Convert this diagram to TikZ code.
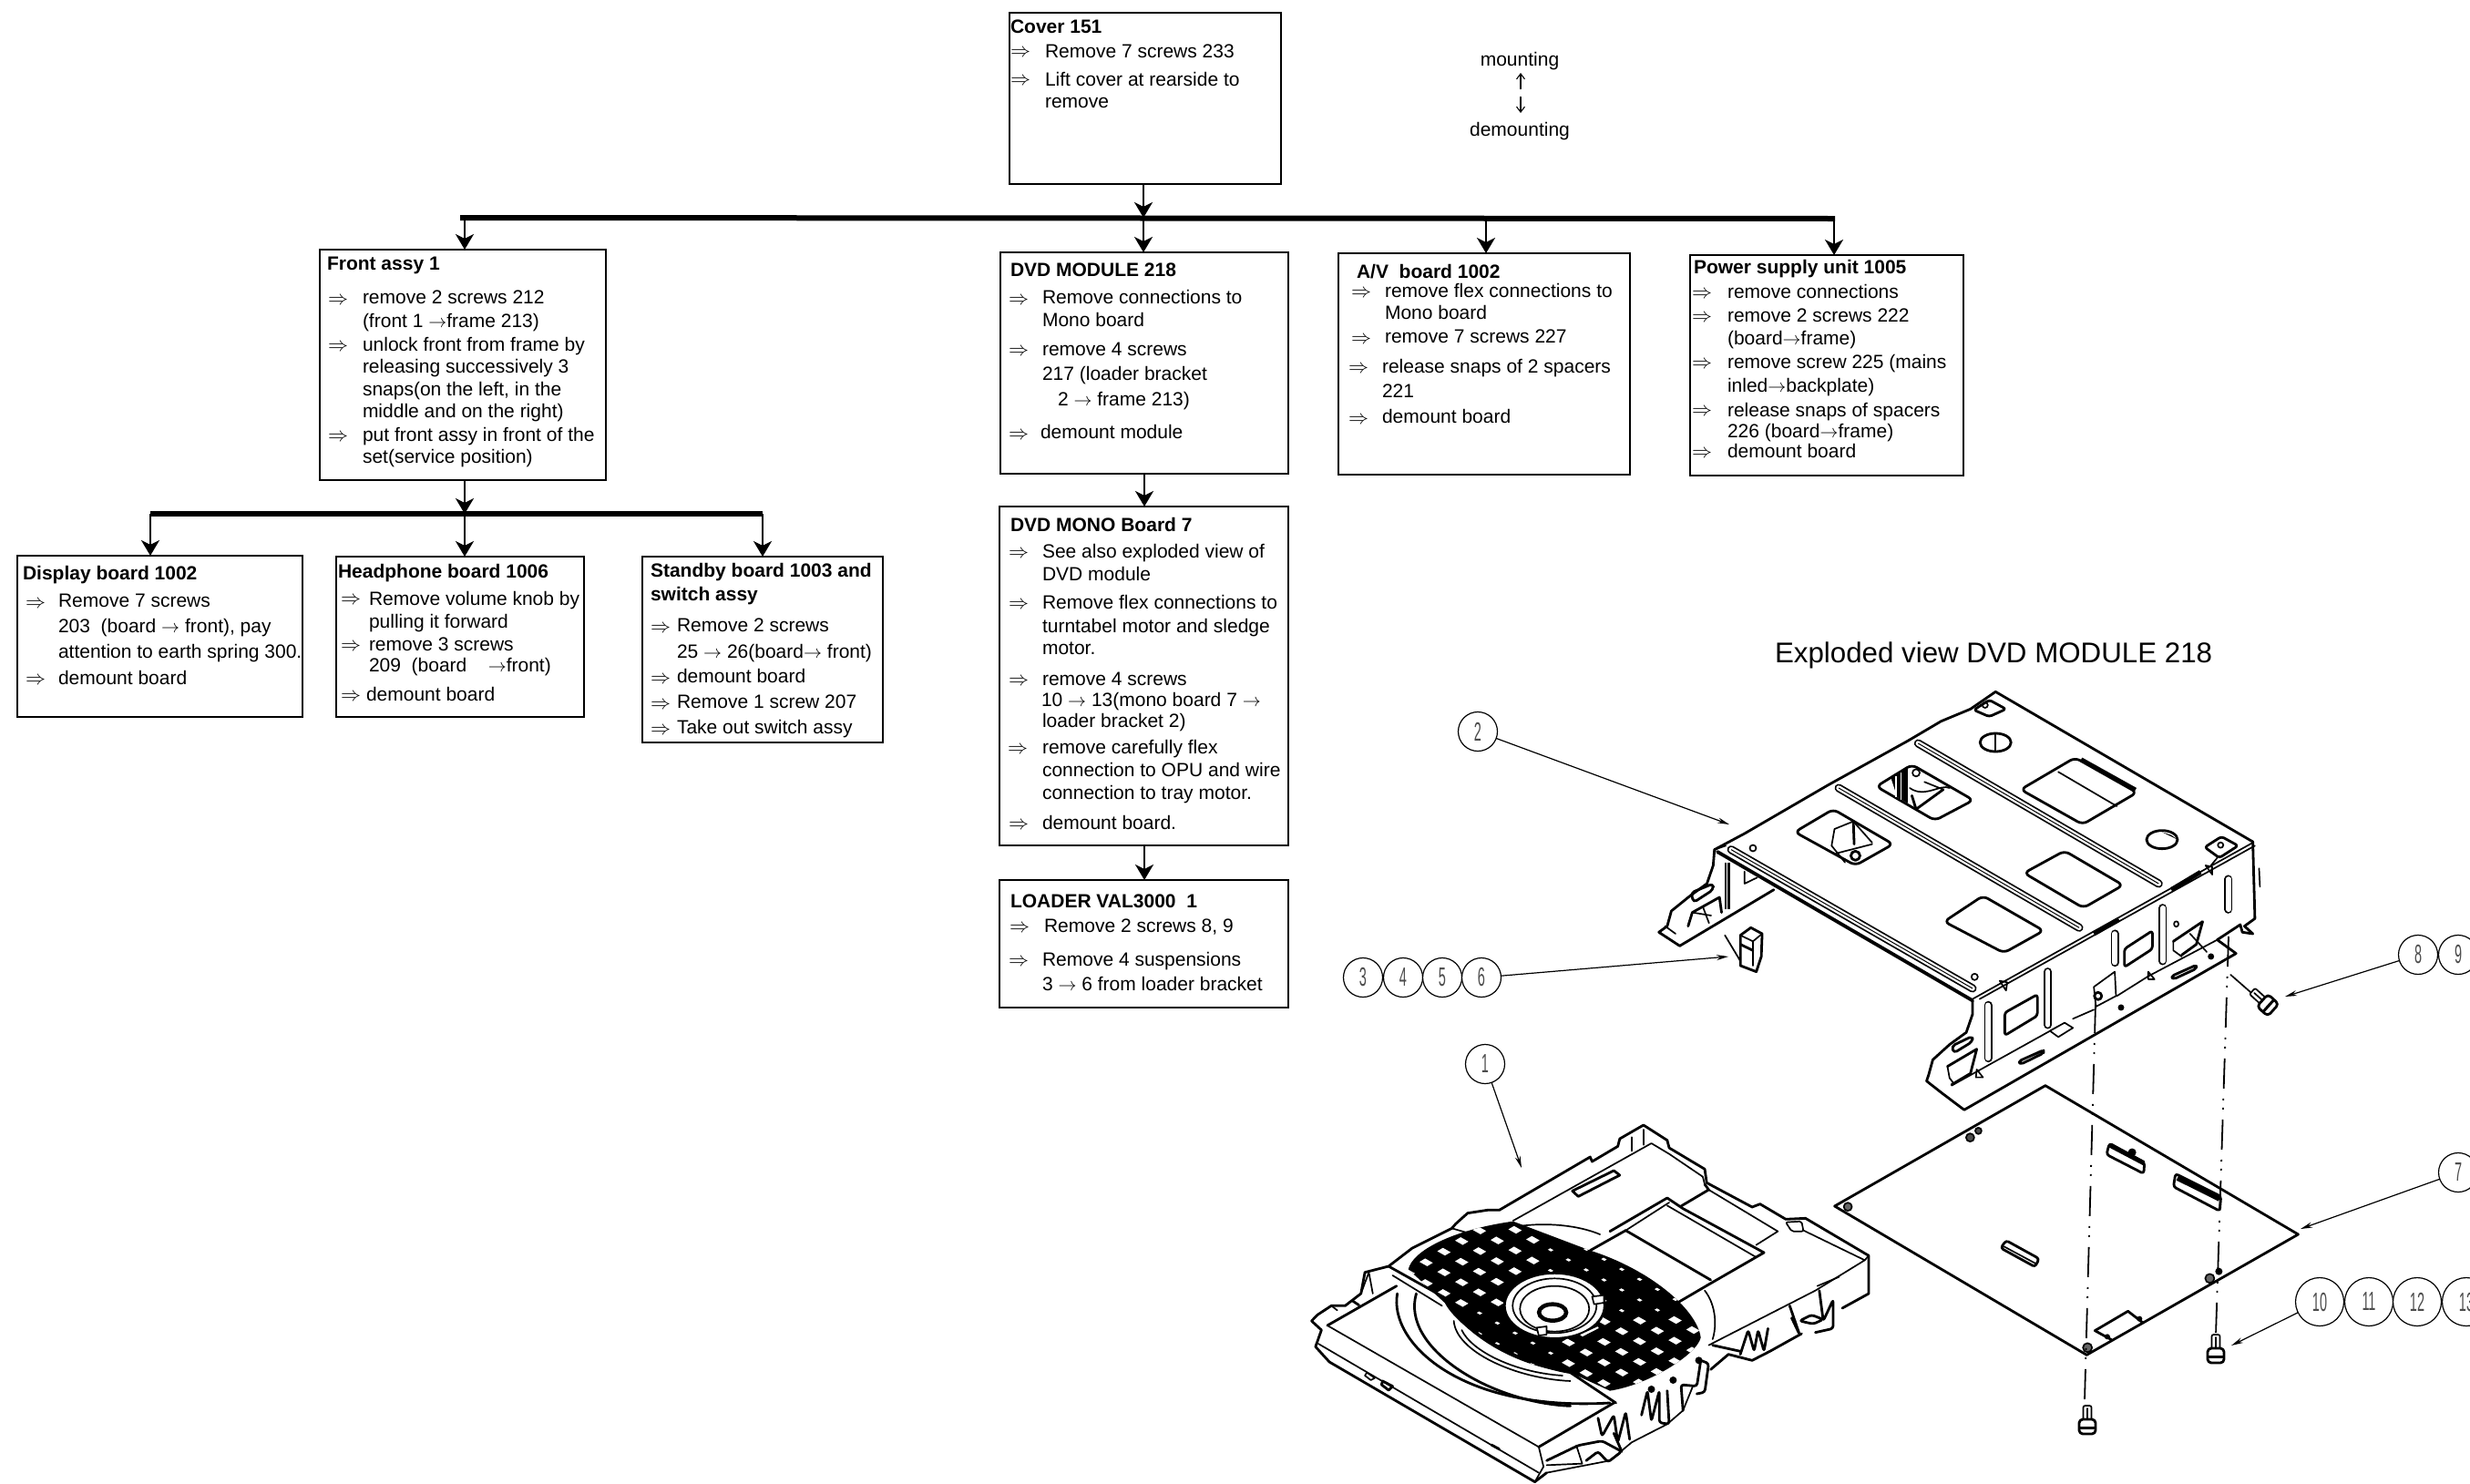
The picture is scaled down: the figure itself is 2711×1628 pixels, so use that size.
\documentclass[tikz,border=0pt]{standalone}
\usepackage{fix-cm}
\usepackage{fontspec}
\setmainfont{Liberation Sans}
\usetikzlibrary{arrows.meta,shapes.geometric}
\newcount\tcnt
\tikzset{
 box/.style={draw=black,line width=2.8pt,inner sep=0pt,outer sep=0pt,anchor=north west},
 txt/.style={font=\fontsize{21}{25}\selectfont,anchor=base west,inner sep=0pt,outer sep=0pt},
 ttl/.style={font=\fontsize{21}{25}\selectfont\bfseries,anchor=base west,inner sep=0pt,outer sep=0pt},
 busbar/.style={line width=6pt},
 flow/.style={line width=2.4pt,-{Stealth[length=17pt,width=20pt,inset=5pt]}},
 small/.style={line width=1.1pt,-{Straight Barb[length=6pt,width=9pt]}},
 leader/.style={line width=1.2pt,-{Stealth[length=13pt,width=6pt]}},
 callout/.style={draw=black,circle,line width=1.2pt,minimum size=43pt,inner sep=0pt,outer sep=0pt,fill=white,text=black!70,font=\fontsize{29}{29}\selectfont},
 calloutb/.style={callout,minimum size=53pt},
 axisl/.style={line width=1.8pt,dash pattern=on 33pt off 11pt on 2pt off 8pt on 2pt off 11pt},
 dk/.style={line width=2.8pt,line join=round,line cap=round},
 th/.style={line width=1.7pt,line join=round,line cap=round},
}
\newcommand{\bx}[5]{\node[box,minimum width={(#4-#2)*1pt},minimum height={(#5-#3)*1pt}] (#1) at (#2,#3) {};}
\newcommand{\tl}[3]{\global\advance\tcnt by 1 \node[txt] (t\the\tcnt) at (#1,#2) {#3};}
\newcommand{\ti}[3]{\global\advance\tcnt by 1 \node[ttl] (t\the\tcnt) at (#1,#2) {#3};}
\newcommand{\ar}[2]{\global\advance\tcnt by 1 \node[txt] (t\the\tcnt) at (#1,#2) {\fontsize{22}{22}\selectfont$\Rightarrow$};}
\newcommand{\ra}{{\fontsize{20}{20}\selectfont$\rightarrow$}}
\newcommand{\dg}[1]{\scalebox{0.5}[1]{#1}}
\newcommand{\slotm}[2]{\draw[line width=9pt,line cap=round] #1 -- #2; \draw[white,line width=5.5pt,line cap=round] #1 -- #2;}
\newcommand{\slotr}[2]{\slotm{#1}{#2}\draw[line width=1pt] #1 -- #2;}
\newcommand{\screwpic}[3]{\begin{scope}[shift={(#1,#2)},rotate=#3]
 \draw[th,fill=white,rounded corners=2pt] (-4.5,0) rectangle (4.5,18);
 \draw[th] (0,3) -- (0,16);
 \draw[dk,fill=white,rounded corners=4pt] (-9,15) rectangle (9,31);
 \draw[line width=3pt] (-8,24) -- (8,24);
\end{scope}}
\begin{document}
\begin{tikzpicture}[x=1pt,y=-1pt]
\useasboundingbox (0,0) rectangle (2711,1628);
\fill[white] (0,0) rectangle (2711,1628);

% ---------- boxes
\bx{cover}{1108}{14}{1406}{202}
\bx{dvd}{1098}{277}{1414}{520}
\bx{av}{1469}{278}{1789}{521}
\bx{psu}{1855}{280}{2155}{522}
\bx{front}{351}{274}{665}{527}
\bx{disp}{19}{610}{332}{787}
\bx{head}{369}{611}{641}{787}
\bx{stby}{705}{611}{969}{815}
\bx{mono}{1097}{556}{1414}{928}
\bx{load}{1097}{966}{1414}{1106}

% ---------- bars and arrows
\coordinate (mL) at (505,239);
\coordinate (mR) at (2014,240);
\coordinate (mC) at (1255,239);
\coordinate (mA) at (1631,240);
\coordinate (mP) at (2013,240);
\coordinate (mF) at (510,239);
\draw[busbar] (mL) -- (mR);
\draw[flow] (cover.south -| mC) -- (mC);
\draw[flow] (mC) -- (mC |- dvd.north);
\draw[flow] (mA) -- (mA |- av.north);
\draw[flow] (mP) -- (mP |- psu.north);
\draw[flow] (mF) -- (mF |- front.north);
\coordinate (sL) at (165,564);
\coordinate (sR) at (837,564);
\coordinate (sC) at (510,564);
\draw[busbar] (sL) -- (sR);
\draw[flow] (front.south -| sC) -- (sC);
\draw[flow] (sL) -- (sL |- disp.north);
\draw[flow] (sC) -- (sC |- head.north);
\draw[flow] (sR) -- (sR |- stby.north);
\coordinate (mv) at (1256,500);
\draw[flow] (dvd.south -| mv) -- (mv |- mono.north);
\draw[flow] (mono.south -| mv) -- (mv |- load.north);

% ---------- texts
\ti{1109}{36}{Cover 151}
\ar{1109}{62}\tl{1147}{63}{Remove 7 screws 233}
\ar{1109}{93}\tl{1147}{94}{Lift cover at rearside to}
\tl{1147}{118}{remove}

\node[txt,anchor=base] (mnt) at (1668,72) {mounting};
\node[txt,anchor=base] (dmnt) at (1668,149) {demounting};
\coordinate (u1) at (1669,98); \coordinate (u2) at (1669,80);
\coordinate (d1) at (1669,106); \coordinate (d2) at (1669,124);
\draw[small] (u1) -- (u2);
\draw[small] (d1) -- (d2);

\ti{1109}{303}{DVD MODULE 218}
\ar{1107}{334}\tl{1144}{333}{Remove connections to}
\tl{1144}{358}{Mono board}
\ar{1107}{390}\tl{1144}{390}{remove 4 screws}
\tl{1144}{417}{217 (loader bracket}
\tl{1161}{445}{2 \ra{} frame 213)}
\ar{1107}{482}\tl{1142}{481}{demount module}

\ti{1489}{305}{A/V\ \ board 1002}
\ar{1483}{326}\tl{1520}{326}{remove flex connections to}
\tl{1520}{350}{Mono board}
\ar{1483}{377}\tl{1520}{376}{remove 7 screws 227}
\ar{1480}{409}\tl{1517}{409}{release snaps of 2 spacers}
\tl{1517}{436}{221}
\ar{1480}{465}\tl{1517}{464}{demount board}

\ti{1859}{300}{Power supply unit 1005}
\ar{1857}{327}\tl{1896}{327}{remove connections}
\ar{1857}{353}\tl{1896}{353}{remove 2 screws 222}
\tl{1896}{378}{(board\ra{}frame)}
\ar{1857}{404}\tl{1896}{404}{remove screw 225 (mains}
\tl{1896}{430}{inled\ra{}backplate)}
\ar{1857}{456}\tl{1896}{457}{release snaps of spacers}
\tl{1896}{480}{226 (board\ra{}frame)}
\ar{1857}{502}\tl{1896}{502}{demount board}

\ti{359}{296}{Front assy 1}
\ar{360}{334}\tl{398}{333}{remove 2 screws 212}
\tl{398}{359}{(front 1 \ra{}frame 213)}
\ar{360}{385}\tl{398}{385}{unlock front from frame by}
\tl{398}{409}{releasing successively 3}
\tl{398}{434}{snaps(on the left, in the}
\tl{398}{458}{middle and on the right)}
\ar{360}{484}\tl{398}{484}{put front assy in front of the}
\tl{398}{508}{set(service position)}

\ti{25}{636}{Display board 1002}
\ar{28}{667}\tl{64}{666}{Remove 7 screws}
\tl{64}{694}{203\ \ (board \ra{} front), pay}
\tl{64}{722}{attention to earth spring 300.}
\ar{28}{751}\tl{64}{751}{demount board}

\ti{371}{634}{Headphone board 1006}
\ar{374}{663}\tl{405}{664}{Remove volume knob by}
\tl{405}{689}{pulling it forward}
\ar{374}{714}\tl{405}{714}{remove 3 screws}
\tl{405}{737}{209\ \ (board\ \ \ \ \ra{}front)}
\ar{374}{769}\tl{402}{769}{demount board}

\ti{714}{633}{Standby board 1003 and}
\ti{714}{659}{switch assy}
\ar{714}{694}\tl{743}{693}{Remove 2 screws}
\tl{743}{722}{25 \ra{} 26(board\ra{} front)}
\ar{714}{750}\tl{743}{749}{demount board}
\ar{714}{778}\tl{743}{777}{Remove 1 screw 207}
\ar{714}{806}\tl{743}{805}{Take out switch assy}

\ti{1109}{583}{DVD MONO Board 7}
\ar{1107}{612}\tl{1144}{612}{See also exploded view of}
\tl{1144}{637}{DVD module}
\ar{1107}{668}\tl{1144}{668}{Remove flex connections to}
\tl{1144}{694}{turntabel motor and sledge}
\tl{1144}{718}{motor.}
\ar{1107}{752}\tl{1144}{752}{remove 4 screws}
\tl{1143}{775}{10 \ra{} 13(mono board 7 \ra{}}
\tl{1144}{798}{loader bracket 2)}
\ar{1106}{827}\tl{1144}{827}{remove carefully flex}
\tl{1144}{852}{connection to OPU and wire}
\tl{1144}{877}{connection to tray motor.}
\ar{1107}{910}\tl{1144}{910}{demount board.}

\ti{1109}{996}{LOADER VAL3000\ \ 1}
\ar{1108}{1023}\tl{1146}{1023}{Remove 2 screws 8, 9}
\ar{1107}{1060}\tl{1144}{1060}{Remove 4 suspensions}
\tl{1144}{1087}{3 \ra{} 6 from loader bracket}

\node[txt,font=\fontsize{31.3}{35}\selectfont] (xtitle) at (1948,727) {Exploded view DVD MODULE 218};

% ---------- frame (loader bracket)
\begin{scope}[shift={(1800,750)},x=0.4591pt,y=-0.3333pt]
 % plate outline
 \draw[dk] (178,548) -- (250,495) -- (450,335) -- (640,190) -- (720,125) -- (790,85) -- (850,28) -- (1465,522);
 \draw[line width=3.8pt,line cap=round] (185,555) -- (795,1045);
 \draw[th] (205,535) -- (178,548);
 % front plate edge (double)
 \draw[th] (795,1040) -- (1465,525);
 \draw[th] (812,1040) -- (1470,535);
 \draw[line width=5pt] (1085,825) -- (1145,778);
 \draw[line width=5pt] (1270,680) -- (1340,622);
 % ribs
 \slotr{(218,548)}{(795,1005)}
 \slotr{(475,345)}{(1050,805)}
 \slotr{(665,198)}{(1240,660)}
 % windows
 \draw[dk,rounded corners=6pt] (370,490)--(462,415)--(605,530)--(515,600)--cycle;
 \draw[dk,rounded corners=6pt] (565,340)--(650,268)--(797,385)--(705,452)--cycle;
 \draw[dk,rounded corners=6pt] (910,350)--(1040,245)--(1188,360)--(1058,465)--cycle;
 \draw[line width=4pt] (1055,250) -- (1185,350);
 \draw[th] (1000,292) -- (1140,405);
 \draw[dk,rounded corners=6pt] (918,625)--(1015,552)--(1155,665)--(1060,740)--cycle;
 \draw[dk,rounded corners=6pt] (727,785)--(820,700)--(965,815)--(870,888)--cycle;
 % window 1 interior
 \draw[th] (465,480) -- (510,455) -- (555,525);
 \draw[th] (465,480) -- (458,535) -- (490,590);
 \draw[dk] (510,455) -- (512,530);
 \draw[th] (470,560) -- (555,530);
 \draw[dk] (515,568) circle[radius=5pt];
 % window 2 interior
 \fill (600,312) -- (640,280) -- (640,395) -- (615,375) -- cycle;
 \draw[white,line width=1.2pt] (612,305) -- (612,375);
 \draw[white,line width=1.2pt] (624,295) -- (624,385);
 \draw[th] (660,295) circle[radius=4pt];
 \draw[th] (645,345) .. controls (680,380) and (720,330) .. (740,345);
 \draw[dk] (650,370) -- (660,415) -- (725,350);
 \draw[th] (680,325) -- (725,350);
 % holes
 \draw[th] (270,543) circle[radius=3.5pt];
 \draw[th] (800,967) circle[radius=3.5pt];
 \draw[dk] (850,195) circle[x radius=17pt,y radius=10pt];
 \draw[th] (850,165) -- (850,225);
 \draw[dk] (1248,515) circle[x radius=17pt,y radius=10pt];
 \fill (1248,490) -- (1285,515) -- (1270,500) -- cycle;
 % tabs
 \draw[dk,rounded corners=3pt] (798,88)--(835,55)--(875,85)--(835,110)--cycle;
 \draw[th] (825,72) circle[radius=3pt];
 \draw[dk,rounded corners=3pt] (1350,540)--(1390,505)--(1430,535)--(1385,575)--cycle;
 \draw[th] (1388,533) circle[radius=3pt];
 \draw[th] (1380,575) -- (1365,600);
 % wall outline
 \draw[dk] (1465,522) -- (1470,775) -- (1445,800) -- (1465,825) -- (1440,820) -- (1435,795) -- (1380,845);
 \draw[th] (1480,610) -- (1482,670);
 \draw[dk] (1380,845) -- (1425,890) -- (775,1405) -- (722,1350);
 \draw[dk] (795,1045) -- (795,1090) -- (780,1150) -- (740,1190) -- (700,1240) -- (690,1290) -- (685,1310) -- (722,1350);
 \draw[th] (745,1325) -- (1000,1130);
 \draw[th] (1035,1105) -- (1085,1075);
 \draw[th] (1140,1030) -- (1215,965) -- (1380,845);
 % wall slots
 \slotm{(832,1060)}{(832,1235)}
 \slotm{(975,950)}{(975,1125)}
 \slotm{(1135,825)}{(1135,920)}
 \slotm{(1250,740)}{(1250,915)}
 \slotm{(1407,645)}{(1407,745)}
 % wall windows
 \draw[dk,rounded corners=3pt] (872,1085)--(950,1025)--(950,1095)--(872,1160)--cycle;
 \draw[dk,rounded corners=3pt] (1158,875)--(1225,815)--(1225,875)--(1158,935)--cycle;
 \draw[th,fill=white] (980,1145)--(1015,1118)--(1035,1135)--(1000,1165)--cycle;
 \draw[th] (1085,1000)--(1135,950)--(1138,1030)--(1090,1065)--cycle;
 \draw[th] (1088,1065) -- (1088,1150);
 \draw[dk] (1095,1030) circle[radius=4pt];
 \fill (1150,1068) circle[radius=3.5pt];
 \fill (1365,900) circle[radius=3.5pt];
 \draw[th] (1282,793) circle[x radius=2.5pt,y radius=3pt];
 \draw[dk] (1275,850) -- (1345,785) -- (1330,860) -- (1295,895);
 \draw[th] (1275,850) -- (1275,880) -- (1295,900);
 \draw[th] (1315,825) -- (1355,885);
 % flange slots
 \draw[dk,rounded corners=3pt] (905,1245)--(965,1208)--(965,1218)--(910,1255)--cycle;
 \draw[dk,rounded corners=3pt] (1270,965)--(1330,928)--(1330,940)--(1275,975)--cycle;
 % markers
 \draw[th] (860,980)--(875,1012)--(878,985)--cycle;
 \draw[th] (1352,600)--(1368,630)--(1368,605)--cycle;
 \draw[th] (1215,950)--(1230,975)--(1215,975)--cycle;
 \draw[th] (805,1272)--(820,1298)--(803,1298)--cycle;
 % left foot of wall
 \draw[dk,rounded corners=4pt] (745,1195)--(795,1162)--(795,1180)--(750,1218)--cycle;
 \draw[dk] (735,1262) -- (805,1205) -- (790,1285) -- (745,1322);
 \draw[th] (735,1262) -- (740,1300) -- (750,1318);
 % rear foot
 \draw[dk] (178,548) -- (175,600) -- (160,660) -- (120,700) -- (75,750) -- (65,800) -- (45,820) -- (95,865) -- (320,680);
 \draw[dk,rounded corners=4pt] (122,690)--(175,660)--(175,680)--(128,722)--cycle;
 \draw[line width=6pt] (210,590) -- (210,745);
 \draw[white,line width=1pt] (207,590) -- (207,745);
 \draw[dk] (115,800) -- (125,755) -- (190,705) -- (195,755);
 \draw[th] (125,755) -- (170,765);
 \draw[th] (150,735) -- (165,790);
 \draw[th] (250,620) -- (250,660) -- (280,640);
 \draw[th] (60,800) -- (85,825);
 % suspension
 \draw[th] (203,830) -- (240,915);
 \draw[dk,fill=white] (240,830) -- (265,805) -- (292,825) -- (290,900) -- (278,950) -- (240,930) -- cycle;
 \draw[th] (240,830) -- (270,850) -- (292,825);
 \draw[th] (270,850) -- (270,930);
 \draw[dk] (240,860) -- (270,880);
 % screw leader
 \draw[th] (1412,960) -- (1470,1030);
\end{scope}

% ---------- board
\begin{scope}[shift={(2000,1150)},x=0.4535pt,y=-0.3333pt]
 \draw[dk] (540,125)--(30,522)--(640,1012)--(1152,615)--cycle;
 \draw[th,fill=black!70] (358,296) circle[radius=4.5pt];
 \draw[th,fill=black!70] (378,274) circle[radius=3.5pt];
 \draw[th,fill=black!60] (62,524) circle[radius=4.5pt];
 \draw[th,fill=black!60] (642,988) circle[radius=5pt];
 \draw[th,fill=black!60] (938,760) circle[radius=5pt];
 \fill (960,737) circle[radius=4pt];
 \fill (750,345) circle[radius=4.5pt];
 \draw[dk,fill=white,rounded corners=3pt] (695,315)--(780,378)--(778,415)--(688,352)--cycle;
 \draw[line width=5pt] (697,322)--(778,380);
 \draw[dk,fill=white,rounded corners=3pt] (855,415)--(965,490)--(962,538)--(850,458)--cycle;
 \draw[line width=6.5pt] (860,428)--(962,497);
 \draw[dk,fill=white,rounded corners=3pt] (445,635)--(525,695)--(515,722)--(432,660)--cycle;
 \draw[th] (440,655)--(518,712);
 \draw[dk] (660,932)--(740,868)--(775,905);
 \draw[dk] (660,932)--(700,962);
 \fill (768,893) circle[radius=3pt];
 \fill (690,952) circle[radius=3pt];
\end{scope}

% ---------- loader
\begin{scope}[shift={(1420,1220)},x=0.4337pt,y=-0.3333pt]
 % silhouette
 \draw[dk] (45,690)--(60,670)--(95,640)--(130,640)--(170,600)--(180,530)--(240,510)--(300,450)--(400,385)--(410,370)--(440,335)--(490,325)--(520,325)--(750,150)--(755,165)--(820,115)--(825,90)--(885,45)--(945,95)--(950,120)--(1040,190)--(1045,235)--(1160,315)--(1180,305)--(1245,355)--(1295,352)--(1455,475)--(1455,600)--(1388,648);
 % lower edge of the side wall
 \draw[dk] (1285,732)--(1205,790)--(1160,820)--(1100,800)--(1055,850);
 \draw[th] (1010,905)--(985,985)--(945,1030)--(855,1090)--(800,1150)--(640,1190);
 % inner rear
 \draw[th] (555,360)--(905,105)--(950,140)--(1035,215)--(1040,240);
 \draw[dk] (1040,240)--(1050,258)--(980,312);
 \draw[th] (1050,258)--(1225,395)--(1170,440);
 \draw[th] (855,85)--(855,130); \draw[th] (885,60)--(885,110);
 \draw[th,rounded corners=2pt] (1245,365)--(1285,362)--(1290,395)--(1260,395)--cycle;
 \draw[th] (1290,392)--(1445,490)--(1320,590)--(1050,770);
 \draw[th] (1445,490)--(1455,475);
 \draw[th] (1325,575)--(1380,545);
 \draw[dk] (705,262)--(810,195)--(825,210)--(720,280)--cycle;
 % sled
 \draw[dk] (800,395)--(945,285)--(985,320)--(1190,465)--(1050,570)--(945,650);
 \draw[th] (945,310)--(1170,480);
 \draw[dk] (840,392)--(1055,555);
 \draw[th] (950,300)--(840,392);
 \draw[dk] (750,458)--(840,392);
 % disc arcs
 \draw[dk] (262,600) .. controls (240,760) and (420,990) .. (800,960);
 \draw[dk] (310,600) .. controls (270,780) and (500,960) .. (700,970);
 \draw[th] (405,690) .. controls (410,790) and (560,880) .. (700,888);
 \draw[th] (425,720) .. controls (450,790) and (560,860) .. (680,870);
 \draw[th] (1040,590) .. controls (1070,640) and (1070,710) .. (1060,750);
 \draw[th] (570,378) .. controls (640,365) and (720,375) .. (775,405);
 % perforated disc
 \begin{scope}
  \clip (290,520) .. controls (300,460) and (400,390) .. (555,362) -- (750,458) .. controls (900,520) and (1020,650) .. (1030,745) .. controls (1020,800) and (900,900) .. (800,920) -- (700,860) .. controls (560,840) and (440,740) .. (390,640) -- cycle;
  \fill (200,300) rectangle (1100,1000);
  \foreach \uu in {-11,...,11}{\foreach \vv in {-11,...,11}{
   \pgfmathsetmacro\px{650+45*\uu+45*\vv}
   \pgfmathsetmacro\py{660+33*\uu-35*\vv}
   \pgfmathsetmacro\hs{((\px-650)/100*(\py-660)/100>0)?0.72:0.3}
   \fill[white] ({\px+23.4*\hs},{\py+2.2*\hs}) -- ({\px+3.6*\hs},{\py+17.6*\hs}) -- ({\px-23.4*\hs},{\py-2.2*\hs}) -- ({\px-3.6*\hs},{\py-17.6*\hs}) -- cycle;
  }}
 \end{scope}
 % hub
 \draw[dk,fill=white] (660,640) circle[x radius=55pt,y radius=36pt];
 \draw[th] (660,640) circle[x radius=46pt,y radius=30pt];
 \draw[th] (660,650) circle[x radius=38pt,y radius=25pt];
 \draw[line width=4.5pt] (655,662) circle[x radius=15pt,y radius=9pt];
 \draw[th,fill=white] (615,712)--(640,708)--(640,735)--(620,738)--cycle;
 \draw[th,fill=white] (755,610)--(785,605)--(785,630)--(760,635)--cycle;
 \draw[th,fill=white] (720,735)--(770,705)--(775,715)--(730,745)--cycle;
 % clamp bar edges
 \draw[dk] (240,510)--(380,612);
 \draw[dk] (380,612) .. controls (400,700) and (560,830) .. (700,860);
 \draw[dk] (700,860)--(815,960);
 \draw[th] (250,540)--(375,640);
 \draw[th] (400,385)--(440,400);
 % front face
 \draw[dk] (45,690)--(70,720)--(55,775)--(90,825)--(610,1220)--(640,1190);
 \draw[th] (85,705)--(620,1105)--(632,1170)--(610,1220);
 \draw[th] (62,765)--(620,1190);
 \draw[dk] (620,1105)--(810,960);
 \draw[dk] (260,575)--(85,705);
 \draw[th] (185,860)--(205,878)--(195,885)--(180,870)--cycle;
 \draw[dk] (225,888)--(250,905)--(240,918)--(222,900)--cycle;
 \draw[dk] (500,1098)--(520,1112);
 % left tabs
 \draw[th] (170,600)--(190,530)--(200,600);
 \draw[th] (95,640)--(110,655);
 \draw[dk] (150,625)--(165,638);
 \draw[dk] (1060,770)--(1130,790);
 % ribs / front mechanism
 \begin{scope}[rounded corners=3pt]
 \draw[dk] (1130,800)--(1150,720)--(1165,790)--(1175,720)--(1190,790)--(1200,715);
 \draw[dk] (770,1010)--(780,1070)--(810,1000)--(820,1090)--(840,990)--(850,1080);
 \draw[dk] (880,1000)--(895,920)--(905,1020)--(925,920)--(925,1025)--(950,1030)--(945,920);
 \draw[dk] (985,985)--(980,900)--(1020,905)--(1030,820);
 \draw[dk] (1030,820)--(1050,830)--(1040,925)--(1020,930);
 \draw[dk] (1255,640)--(1280,735)--(1260,680);
 \draw[dk] (1330,590)--(1340,690)--(1365,620)--(1365,715)--(1320,728);
 \draw[dk] (1280,690)--(1310,670)--(1340,685)--(1315,700)--cycle;
 \draw[dk] (640,1150)--(720,1100)--(780,1085)--(830,1120)--(795,1155)--(770,1120)--(740,1150);
 \end{scope}
 \draw[th] (715,1100)--(730,1160)--(640,1165);
 \draw[dk] (810,1060)--(830,1120);
 \fill (960,885) circle[radius=4pt];
 \fill (1025,820) circle[radius=4pt];
 \fill (905,915) circle[radius=4pt];
\end{scope}

% ---------- axes and screws
\coordinate (ax1) at (2300,1101);
\coordinate (ax1e) at (2288,1537);
\coordinate (ax2) at (2446,1028);
\coordinate (ax2e) at (2432,1465);
\draw[axisl] (ax1) -- (ax1e);
\draw[axisl] (ax2) -- (ax2e);
\screwpic{2291}{1543}{0}
\screwpic{2432}{1465}{0}
\screwpic{2472}{1088}{48}

% ---------- callouts
\node[callout] (c2) at (1622,803) {\dg{2}};
\node[callout] (c3) at (1496,1073) {\dg{3}};
\node[callout] (c4) at (1540,1073) {\dg{4}};
\node[callout] (c5) at (1583,1073) {\dg{5}};
\node[callout] (c6) at (1626,1073) {\dg{6}};
\node[callout] (c1) at (1630,1168) {\dg{1}};
\node[callout] (c8) at (2654,1048) {\dg{8}};
\node[callout] (c9) at (2698,1048) {\dg{9}};
\node[callout] (c7) at (2698,1287) {\dg{7}};
\node[calloutb] (c10) at (2546,1429) {\dg{10}};
\node[calloutb] (c11) at (2600,1429) {\dg{11}};
\node[calloutb] (c12) at (2653,1429) {\dg{12}};
\node[calloutb] (c13) at (2707,1429) {\dg{13}};
\coordinate (p2) at (1898,905);
\coordinate (p6) at (1897,1050);
\coordinate (p1) at (1670,1282);
\coordinate (p8) at (2508,1094);
\coordinate (p7) at (2525,1349);
\coordinate (p10) at (2449,1477);
\draw[leader] (c2) -- (p2);
\draw[leader] (c6) -- (p6);
\draw[leader] (c1) -- (p1);
\draw[leader] (c8) -- (p8);
\draw[leader] (c7) -- (p7);
\draw[leader] (c10) -- (p10);
\end{tikzpicture}
\end{document}
